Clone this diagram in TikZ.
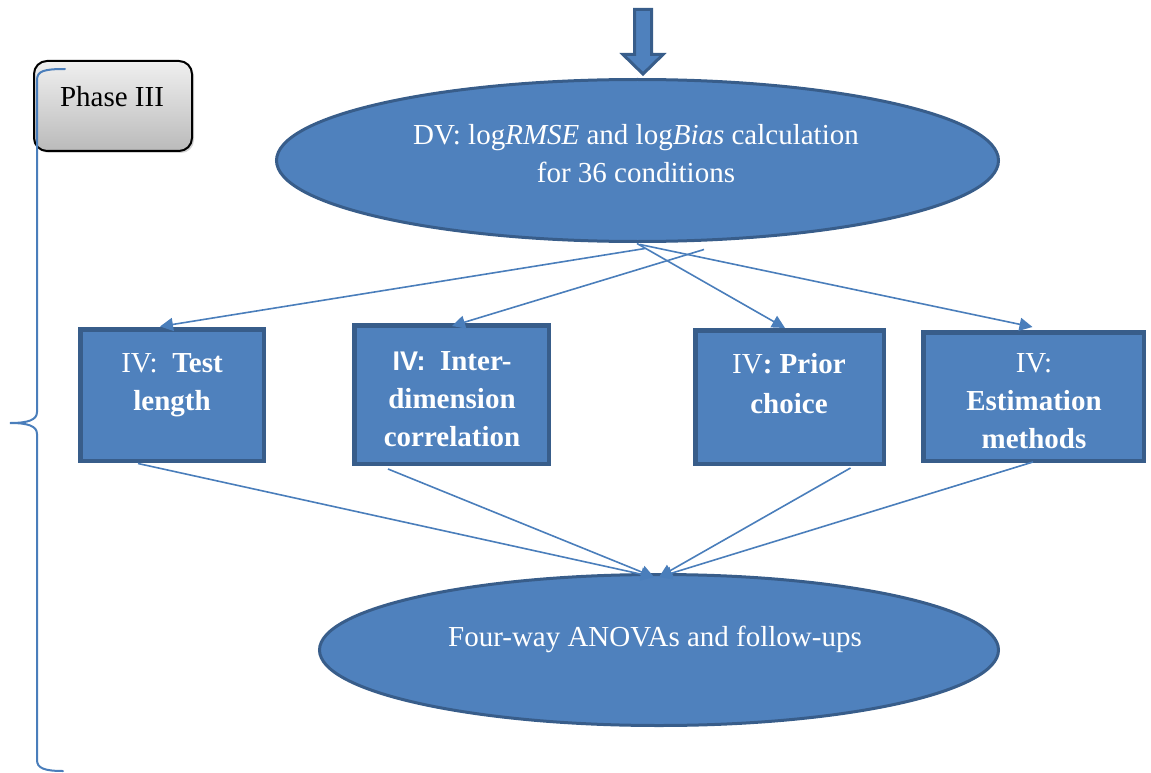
\documentclass[tikz,border=0pt]{standalone}
\usepackage{fontspec}
\setmainfont{Liberation Serif}
\newfontfamily\ivsans{Liberation Sans}
\usetikzlibrary{shapes.geometric,arrows.meta,calc,shadows}

\definecolor{accfill}{HTML}{4F81BD}
\definecolor{accline}{HTML}{385D8A}
\definecolor{linkblue}{HTML}{4A7EBB}

\begin{document}
\begin{tikzpicture}[x=1pt,y=-1pt,
  oval/.style={ellipse, fill=accfill, draw=accline, line width=3pt, inner sep=0pt},
  ivbox/.style={rectangle, fill=accfill, draw=accline, line width=4.5pt, inner sep=0pt},
  lbl/.style={text=white, font=\fontsize{29}{38}\selectfont, align=center, inner sep=0pt},
  phasebox/.style={rectangle, rounded corners=13pt, draw=black, line width=2pt,
    top color=black!6, bottom color=black!27, inner sep=0pt,
    drop shadow={shadow xshift=2pt, shadow yshift=-2pt, opacity=0.35}},
  link/.style={draw=linkblue, line width=1.6pt, -{Triangle[length=13pt,width=13pt]}},
  bracket/.style={draw=linkblue, line width=2pt, line cap=round}
]
\useasboundingbox (0,0) rectangle (1151,773);

% phase label
\node[phasebox, minimum width=158pt, minimum height=90pt] (phase) at (113,106) {};
\node[font=\fontsize{29}{38}\selectfont, inner sep=0pt] (phasetxt) at (112,97) {Phase III};

% curly bracket along the left side
\draw[bracket] (65,69) .. controls (44,69) and (37,71) .. (37,80)
  -- (37,412) .. controls (37,420) and (28,423) .. (10,423)
  .. controls (28,423) and (37,426) .. (37,434)
  -- (37,760) .. controls (37,768) and (44,771) .. (63,771);

% incoming block arrow
\draw[fill=accfill, draw=accline, line width=3pt, line join=miter]
  (634.5,9.5) -- (651.5,9.5) -- (651.5,54.5) -- (663,54.5) -- (643,74)
  -- (623,54.5) -- (634.5,54.5) -- cycle;

% dependent variables
\node[oval, minimum width=722pt, minimum height=162pt] (dv) at (637.5,160.5) {};
\node[lbl] (dvtxt) at (636,154)
  {DV: log\textit{RMSE} and log\textit{Bias} calculation\\for 36 conditions};

% independent variables
\node[ivbox, minimum width=183.5pt, minimum height=131.5pt] (iv1) at (172,395) {};
\node[ivbox, minimum width=194.5pt, minimum height=138.5pt] (iv2) at (451.5,394.5) {};
\node[ivbox, minimum width=188.5pt, minimum height=133.5pt] (iv3) at (789.5,397) {};
\node[ivbox, minimum width=220.5pt, minimum height=128.5pt] (iv4) at (1033.5,396.5) {};

\node[lbl] (iv1txt) at (172,385) {IV:\ \ \textbf{Test}\\\textbf{length}};
\node[lbl] (iv2txt) at (452,399)
  {{\ivsans\bfseries\fontsize{27}{38}\selectfont IV:}\ \ \textbf{Inter-}\\\textbf{dimension}\\\textbf{correlation}};
\node[lbl, font=\fontsize{29}{40}\selectfont] (iv3txt) at (789,384) {IV\textbf{: Prior}\\\textbf{choice}};
\node[lbl] (iv4txt) at (1034,401) {IV:\\\textbf{Estimation}\\\textbf{methods}};

% analysis
\node[oval, minimum width=679pt, minimum height=151pt] (anova) at (659,650) {};
\node[lbl] (anovatxt) at (655,639) {Four-way ANOVAs and follow-ups};

% connectors from the dependent variables to each factor
\draw[link] ($(dv.south)+(7.5,5.5)$) -- ($(iv1.north)+(-12,-0.5)$);
\draw[link] ($(dv.south)+(66.5,6.5)$) -- ($(iv2.north)+(0.5,3)$);
\draw[link] ($(dv.south)+(-0.5,0.5)$) -- ($(iv3.north)+(-4.5,0)$);
\draw[link] ($(dv.south)+(2.5,1.5)$) -- ($(iv4.north)+(-1,-3)$);

% connectors from each factor to the analysis
\draw[link] ($(iv1.south)+(-34,0.5)$) -- ($(anova.north)+(-5,4)$);
\draw[link] ($(iv2.south)+(-63.5,3)$) -- ($(anova.north)+(-5,4)$);
\draw[link] ($(iv3.south)+(61,2)$) -- ($(anova.north)+(0,4)$);
\draw[link] ($(iv4.south)+(-0.5,-1)$) -- ($(anova.north)+(0,4)$);
\end{tikzpicture}
\end{document}
